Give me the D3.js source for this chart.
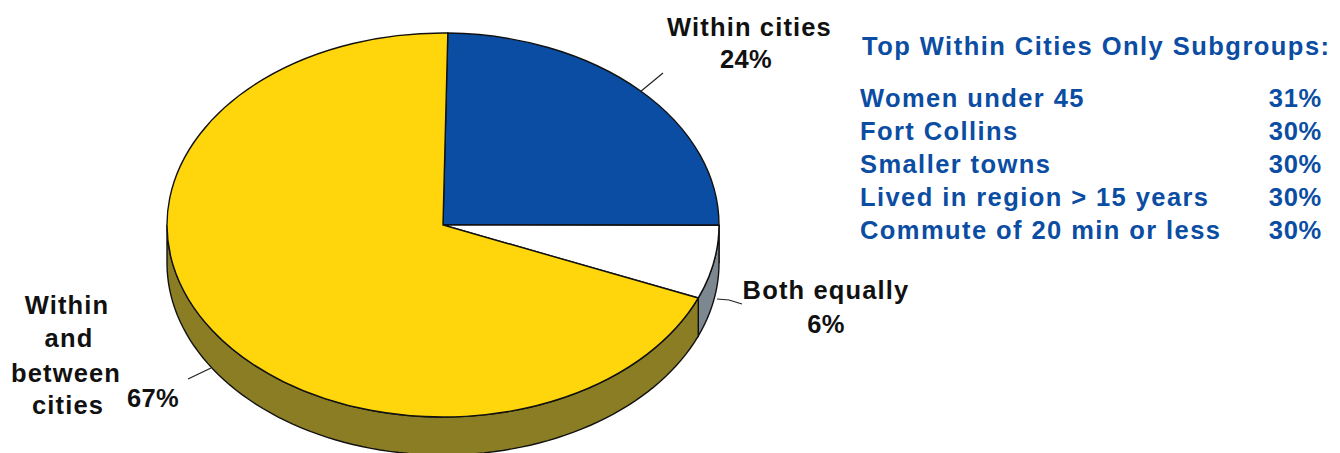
<!DOCTYPE html>
<html><head><meta charset="utf-8">
<script src="https://cdnjs.cloudflare.com/ajax/libs/d3/7.8.5/d3.min.js"></script>
<style>html,body{margin:0;padding:0;background:#fff}svg{display:block}
text{font-family:"Liberation Sans",Arial,sans-serif;font-weight:700}</style>
</head><body><svg id="c" width="1340" height="453"></svg>
<script>
const categories = ["Within cities", "Both equally", "Within and between cities"];
const values = [24, 6, 67];
const topColors = ["#0b4da2", "#ffffff", "#ffd50b"];
const sideColors = ["#0a3a78", "#7d8790", "#8a7d24"];
const subgroupTitle = "Top Within Cities Only Subgroups:";
const subgroups = ["Women under 45", "Fort Collins", "Smaller towns", "Lived in region > 15 years", "Commute of 20 min or less"];
const subgroupValues = [31, 30, 30, 30, 30];

const svg = d3.select("#c");
const cx = 443, cy = 225, rx = 276, ry = 192, depth = 38;
const rad = d => d * Math.PI / 180;
const pie = d3.pie().sort(null).startAngle(rad(1)).endAngle(rad(361));
const arcs = pie(values);
const arc = d3.arc().innerRadius(0).outerRadius(rx);
const px = a => cx + rx * Math.sin(a);
const py = a => cy - ry * Math.cos(a);

// side wall: only the front half of the disc is visible
const stroke = "#111";
arcs.forEach((d, i) => {
  const a0 = Math.max(d.startAngle, Math.PI / 2 + 1e-6), a1 = Math.min(d.endAngle, Math.PI * 1.5);
  if (a1 <= a0) return;
  const n = 80, pts = d3.range(n + 1).map(k => a0 + (a1 - a0) * k / n);
  const line = d3.line();
  const outline = pts.map(a => [px(a), py(a)]).concat(pts.slice().reverse().map(a => [px(a), py(a) + depth]));
  svg.append("path").attr("d", line(outline) + "Z")
    .attr("fill", sideColors[i]).attr("stroke", stroke).attr("stroke-width", 1.4);
});

// top face
svg.append("g").attr("transform", `translate(${cx},${cy}) scale(1,${ry / rx})`)
  .selectAll("path").data(arcs).join("path")
  .attr("d", arc)
  .attr("fill", (d, i) => topColors[i])
  .attr("stroke", stroke).attr("stroke-width", 1.4)
  .attr("vector-effect", "non-scaling-stroke");

// leader lines
const leaders = [
  [[640, 92], [663, 73]],
  [[717, 299], [729, 300], [742, 304]],
  [[188, 379], [211, 368]]
];
leaders.forEach(l => svg.append("path").attr("d", d3.line()(l)).attr("fill", "none").attr("stroke", "#222").attr("stroke-width", 1.2));

// pie labels
const fs = 25.5;
const labels = [
  {x: 749.5, y: 36, t: "Within cities"},
  {x: 746, y: 68, t: values[0] + "%"},
  {x: 826, y: 299, t: "Both equally"},
  {x: 826, y: 333, t: values[1] + "%"},
  {x: 67, y: 314, t: "Within"},
  {x: 69, y: 347, t: "and"},
  {x: 66, y: 382, t: "between"},
  {x: 68, y: 414, t: "cities"},
  {x: 153, y: 407, t: values[2] + "%"}
];
svg.selectAll("text.lab").data(labels).join("text").attr("class", "lab")
  .attr("x", d => d.x).attr("y", d => d.y).attr("text-anchor", "middle")
  .attr("font-size", fs).attr("letter-spacing", d => d.t.endsWith("%") ? 0.4 : 1.15).attr("fill", "#111").text(d => d.t);

// subgroup panel
const blue = "#0b4da2";
svg.append("text").attr("x", 862).attr("y", 55).attr("font-size", 25.5).attr("letter-spacing", 1.47).attr("fill", blue).text(subgroupTitle);
const rowY = d3.scalePoint().domain(subgroups).range([107, 239]);
svg.selectAll("text.name").data(subgroups).join("text").attr("class", "name")
  .attr("x", 860).attr("y", d => rowY(d)).attr("font-size", 25.5).attr("letter-spacing", 1.42).attr("fill", blue).text(d => d);
svg.selectAll("text.val").data(subgroupValues).join("text").attr("class", "val")
  .attr("x", 1322).attr("y", (d, i) => rowY(subgroups[i])).attr("text-anchor", "end")
  .attr("font-size", 25.5).attr("letter-spacing", 0.7).attr("fill", blue).text(d => d + "%");
</script></body></html>
